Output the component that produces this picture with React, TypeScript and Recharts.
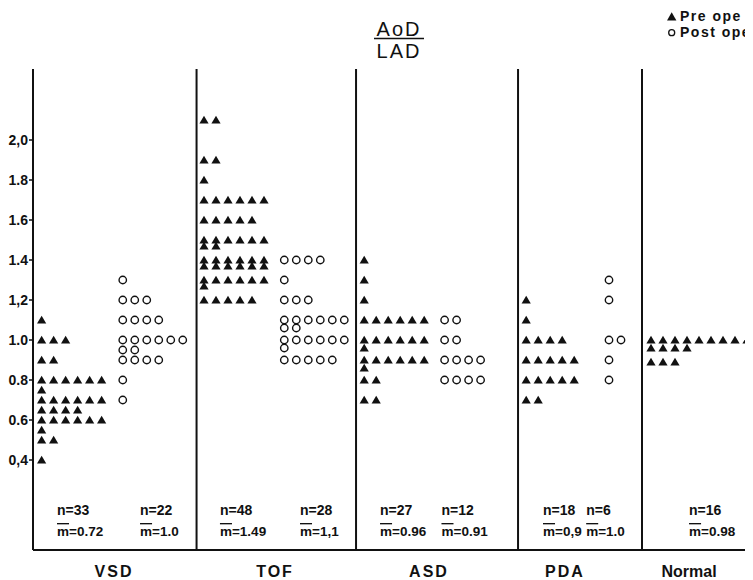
import React from "react";
import { ScatterChart, Scatter, XAxis, YAxis, ReferenceLine } from "recharts";

const groups = ["VSD", "TOF", "ASD", "PDA", "Normal"];

// AoD / LAD ratio, one entry per patient
const vsdPre = [
  1.1, 1.0, 1.0, 1.0, 0.9, 0.9, 0.8, 0.8, 0.8, 0.8, 0.8, 0.8, 0.75, 0.7, 0.7, 0.7, 0.7, 0.7, 0.7,
  0.65, 0.65, 0.65, 0.65, 0.6, 0.6, 0.6, 0.6, 0.6, 0.6, 0.55, 0.5, 0.5, 0.4,
];
const vsdPost = [
  1.3, 1.2, 1.2, 1.2, 1.1, 1.1, 1.1, 1.1, 1.0, 1.0, 1.0, 1.0, 1.0, 1.0, 0.95, 0.95, 0.9, 0.9, 0.9, 0.9,
  0.8, 0.7,
];
const tofPre = [
  2.1, 2.1, 1.9, 1.9, 1.8, 1.7, 1.7, 1.7, 1.7, 1.7, 1.7, 1.6, 1.6, 1.6, 1.6, 1.6, 1.5, 1.5, 1.5, 1.5,
  1.5, 1.5, 1.47, 1.47, 1.4, 1.4, 1.4, 1.4, 1.4, 1.4, 1.37, 1.37, 1.37, 1.37, 1.37, 1.37, 1.3, 1.3,
  1.3, 1.3, 1.3, 1.3, 1.27, 1.2, 1.2, 1.2, 1.2, 1.2,
];
const tofPost = [
  1.4, 1.4, 1.4, 1.4, 1.3, 1.2, 1.2, 1.2, 1.1, 1.1, 1.1, 1.1, 1.1, 1.1, 1.06, 1.06, 1.0, 1.0, 1.0,
  1.0, 1.0, 1.0, 0.96, 0.9, 0.9, 0.9, 0.9, 0.9,
];
const asdPre = [
  1.4, 1.3, 1.2, 1.1, 1.1, 1.1, 1.1, 1.1, 1.1, 1.0, 1.0, 1.0, 1.0, 1.0, 1.0, 0.96, 0.9, 0.9, 0.9,
  0.9, 0.9, 0.9, 0.86, 0.8, 0.8, 0.7, 0.7,
];
const asdPost = [1.1, 1.1, 1.0, 1.0, 0.9, 0.9, 0.9, 0.9, 0.8, 0.8, 0.8, 0.8];
const pdaPre = [
  1.2, 1.1, 1.0, 1.0, 1.0, 1.0, 0.9, 0.9, 0.9, 0.9, 0.9, 0.8, 0.8, 0.8, 0.8, 0.8, 0.7, 0.7,
];
const pdaPost = [1.3, 1.2, 1.0, 1.0, 0.9, 0.8];
const normal = [
  1.0, 1.0, 1.0, 1.0, 1.0, 1.0, 1.0, 1.0, 1.0, 0.96, 0.96, 0.96, 0.96, 0.89, 0.89, 0.89,
];

const yTicks = [0.4, 0.6, 0.8, 1.0, 1.2, 1.4, 1.6, 1.8, 2.0];
const yTickLabels = ["0,4", "0.6", "0.8", "1.0", "1,2", "1.4", "1.6", "1.8", "2,0"];

const noteN = ["n=33", "n=22", "n=48", "n=28", "n=27", "n=12", "n=18", "n=6", "n=16"];
const noteM = ["0.72", "1.0", "1.49", "1,1", "0.96", "0.91", "0,9", "1.0", "0.98"];

// layout: x axis counts dot slots (12px each)
const SLOT_START = [0.72, 7.48, 14.25, 20.94, 27.6, 34.3, 41.1, 48.0, 51.5];
const DIVIDERS = [13.63, 26.92, 40.42, 50.75];
const GROUP_CENTER = [6.75, 20.17, 33, 44.33, 54.67];
const NOTE_X = [2.0, 8.92, 15.58, 22.25, 28.92, 34.04, 42.5, 46.1, 54.67];
const NOTE_Y_N = 0.125;
const NOTE_Y_M = 0.02;

const FONT = '"Liberation Sans", Arial, sans-serif';
const INK = "#111";

function toDots(values: number[], start: number) {
  const seen = new Map<number, number>();
  return values.map((v) => {
    const c = seen.get(v) ?? 0;
    seen.set(v, c + 1);
    return { x: start + c, y: v };
  });
}

const preSets = [vsdPre, tofPre, asdPre, pdaPre, normal];
const postSets = [vsdPost, tofPost, asdPost, pdaPost];
const preStarts = [SLOT_START[0], SLOT_START[2], SLOT_START[4], SLOT_START[6], SLOT_START[8]];
const postStarts = [SLOT_START[1], SLOT_START[3], SLOT_START[5], SLOT_START[7]];

const preDots = preSets.flatMap((s, i) => toDots(s, preStarts[i]));
const postDots = postSets.flatMap((s, i) => toDots(s, postStarts[i]));
const notesN = noteN.map((t, i) => ({ x: NOTE_X[i], y: NOTE_Y_N, text: t }));
const notesM = noteM.map((t, i) => ({ x: NOTE_X[i], y: NOTE_Y_M, text: t }));

const Tri = (p: any) => (
  <polygon
    points={`${p.cx},${p.cy - 4.2} ${p.cx - 4.6},${p.cy + 3.6} ${p.cx + 4.6},${p.cy + 3.6}`}
    fill={INK}
  />
);
const Ring = (p: any) => (
  <circle cx={p.cx} cy={p.cy} r={3.7} fill="#fff" stroke={INK} strokeWidth={1.4} />
);
const NText = (p: any) => (
  <text x={p.cx} y={p.cy} fontFamily={FONT} fontSize={14} fontWeight="bold" fill={INK}>
    {p.payload.text}
  </text>
);
const MText = (p: any) => (
  <text x={p.cx} y={p.cy} fontFamily={FONT} fontSize={13.5} fontWeight="bold" fill={INK}>
    <tspan textDecoration="overline">m</tspan>={p.payload.text}
  </text>
);

const GroupTick = (p: any) => {
  const i = GROUP_CENTER.indexOf(p.payload.value);
  const name = groups[i];
  return (
    <text
      x={p.x}
      y={p.y + 27}
      textAnchor="middle"
      fontFamily={FONT}
      fontSize={16}
      fontWeight="bold"
      letterSpacing={name === "Normal" ? 0 : 2}
      fill={INK}
    >
      {name}
    </text>
  );
};

const ValueTick = (p: any) => {
  const i = yTicks.indexOf(p.payload.value);
  return (
    <text x={p.x} y={p.y + 5} textAnchor="end" fontFamily={FONT} fontSize={14} fontWeight="bold" fill={INK}>
      {yTickLabels[i]}
    </text>
  );
};

export default function App() {
  return (
    <div style={{ position: "relative", width: 745, height: 572, overflow: "hidden", background: "#fff" }}>
      <ScatterChart width={745} height={572} margin={{ top: 61, right: 0, bottom: 0, left: 0 }}>
        <XAxis
          type="number"
          dataKey="x"
          domain={[0, 60]}
          allowDataOverflow
          ticks={GROUP_CENTER}
          tick={GroupTick}
          tickLine={false}
          tickSize={0}
          tickMargin={0}
          height={30}
          axisLine={{ stroke: INK, strokeWidth: 2 }}
        />
        <YAxis
          type="number"
          dataKey="y"
          domain={[-0.05, 2.355]}
          allowDataOverflow
          ticks={yTicks}
          tick={ValueTick}
          tickSize={4}
          tickMargin={1}
          width={25}
          tickLine={{ stroke: INK, strokeWidth: 1.5 }}
          axisLine={{ stroke: INK, strokeWidth: 2 }}
        />
        {DIVIDERS.map((d) => (
          <ReferenceLine key={d} x={d} stroke={INK} strokeWidth={2} />
        ))}
        <Scatter data={preDots} shape={Tri} isAnimationActive={false} />
        <Scatter data={postDots} shape={Ring} isAnimationActive={false} />
        <Scatter data={notesN} shape={NText} isAnimationActive={false} />
        <Scatter data={notesM} shape={MText} isAnimationActive={false} />
      </ScatterChart>
      <svg
        width={745}
        height={60}
        style={{ position: "absolute", left: 0, top: 0, pointerEvents: "none" }}
      >
        <text x={391} y={28} textAnchor="middle" fontFamily={FONT} fontSize={20} letterSpacing={2} fill={INK}>
          AoD
        </text>
        <line x1={366} x2={416} y1={30.5} y2={30.5} stroke={INK} strokeWidth={1.6} />
        <text x={391} y={50} textAnchor="middle" fontFamily={FONT} fontSize={20} letterSpacing={2} fill={INK}>
          LAD
        </text>
        <polygon points="663.7,4.2 659,12.4 668.4,12.4" fill={INK} />
        <text x={672} y={13} fontFamily={FONT} fontSize={14} fontWeight="bold" letterSpacing={1.5} fill={INK}>
          Pre ope
        </text>
        <circle cx={663.7} cy={24.7} r={3} fill="#fff" stroke={INK} strokeWidth={1.3} />
        <text x={672} y={29} fontFamily={FONT} fontSize={14} fontWeight="bold" letterSpacing={1.5} fill={INK}>
          Post ope
        </text>
      </svg>
    </div>
  );
}
